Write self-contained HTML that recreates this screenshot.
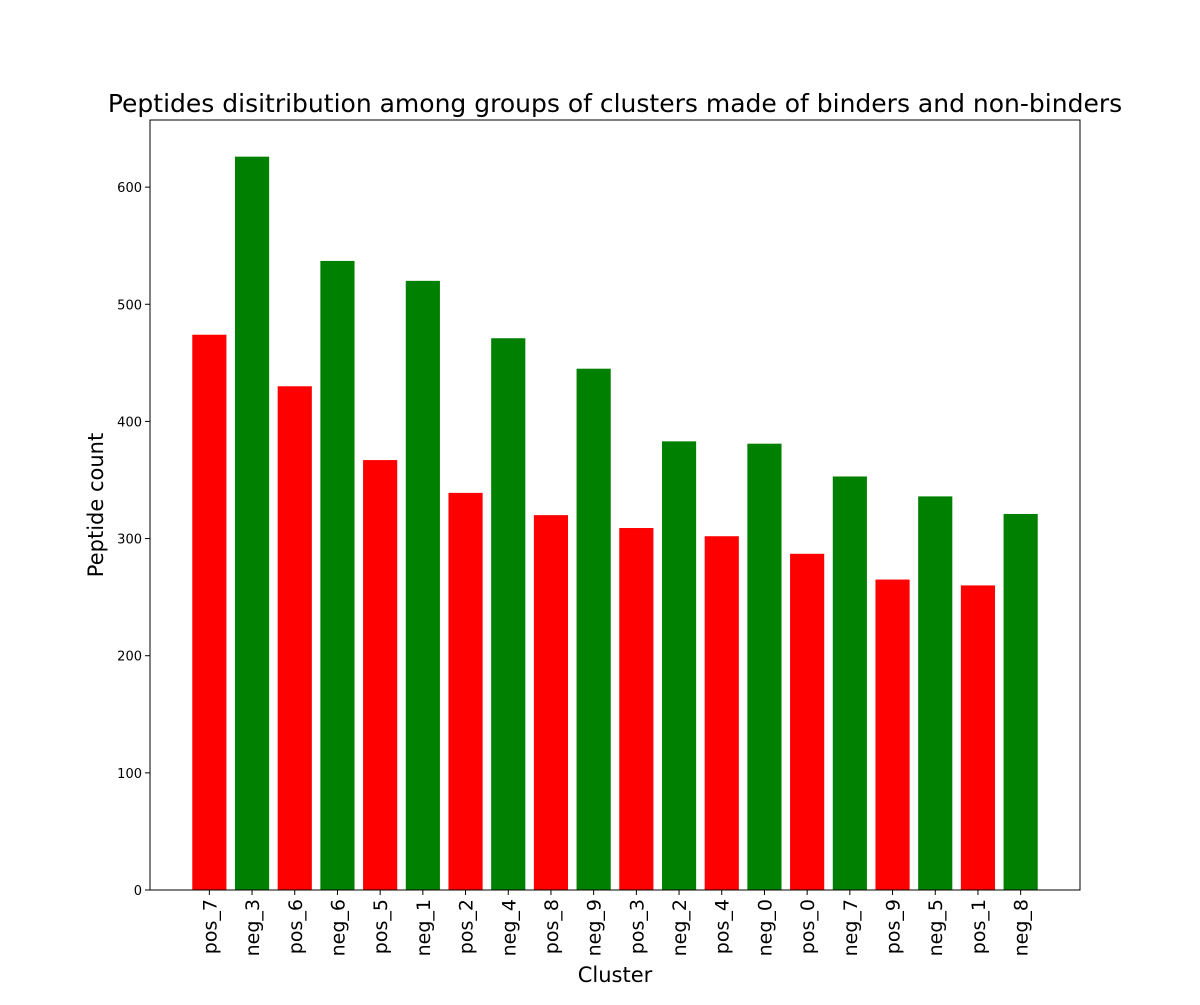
<!DOCTYPE html>
<html><head><meta charset="utf-8"><style>
html,body{margin:0;padding:0;background:#fff;}
svg text{font-family:"DejaVu Sans","Liberation Sans",sans-serif;fill:#000;}
</style></head><body>
<svg id="chart" width="1200" height="1000" xmlns="http://www.w3.org/2000/svg">
<rect width="1200" height="1000" fill="#fff"/>
<text x="615" y="112" text-anchor="middle" font-size="25">Peptides disitribution among groups of clusters made of binders and non-binders</text>
<text x="615" y="982" text-anchor="middle" font-size="21">Cluster</text>
<text transform="translate(103,505) rotate(-90)" text-anchor="middle" font-size="21">Peptide count</text>
<g id="bars"></g><g id="yt"></g><g id="xt"></g>
<rect x="150" y="120" width="930" height="770" fill="none" stroke="#000" stroke-width="1"/>
</svg>
<script>
const categories=["pos_7","neg_3","pos_6","neg_6","pos_5","neg_1","pos_2","neg_4","pos_8","neg_9","pos_3","neg_2","pos_4","neg_0","pos_0","neg_7","pos_9","neg_5","pos_1","neg_8"];
const counts=[474,626,430,537,367,520,339,471,320,445,309,383,302,381,287,353,265,336,260,321];
const yTicks=[0,100,200,300,400,500,600];
const NS="http://www.w3.org/2000/svg";
const L=150,R=1080,T=120,B=890;
const n=categories.length;
const ymax=Math.max(...counts)*1.05;
const xmin=-0.4-(n-0.2)*0.05, xmax=n-0.6+(n-0.2)*0.05;
const X=v=>L+(v-xmin)/(xmax-xmin)*(R-L);
const Y=v=>B-v/ymax*(B-T);
function mk(t,a,p){const e=document.createElementNS(NS,t);for(const k in a)e.setAttribute(k,a[k]);p.appendChild(e);return e;}
const bars=document.getElementById('bars'),yt=document.getElementById('yt'),xt=document.getElementById('xt');
categories.forEach((c,i)=>{
 const x0=X(i-0.4),x1=X(i+0.4);
 const r=mk('rect',{x:x0,y:Y(counts[i]),width:x1-x0,height:B-Y(counts[i]),fill:c.startsWith('pos')?'#ff0000':'#008000'},bars);
 
 
 const cx=X(i);
 mk('line',{x1:cx,x2:cx,y1:B,y2:B+5,stroke:'#000'},xt);
 const t=mk('text',{transform:`translate(${cx+7},${B+9}) rotate(-90)`,'text-anchor':'end','font-size':'19'},xt);
 t.textContent=c;
 
 
});
yTicks.forEach(v=>{
 const y=Y(v);
 mk('line',{x1:L-5,x2:L,y1:y,y2:y,stroke:'#000'},yt);
 const t=mk('text',{x:L-8,y:y+5,'text-anchor':'end','font-size':'13'},yt);
 t.textContent=v;
 
 
});
</script>
</body></html>
